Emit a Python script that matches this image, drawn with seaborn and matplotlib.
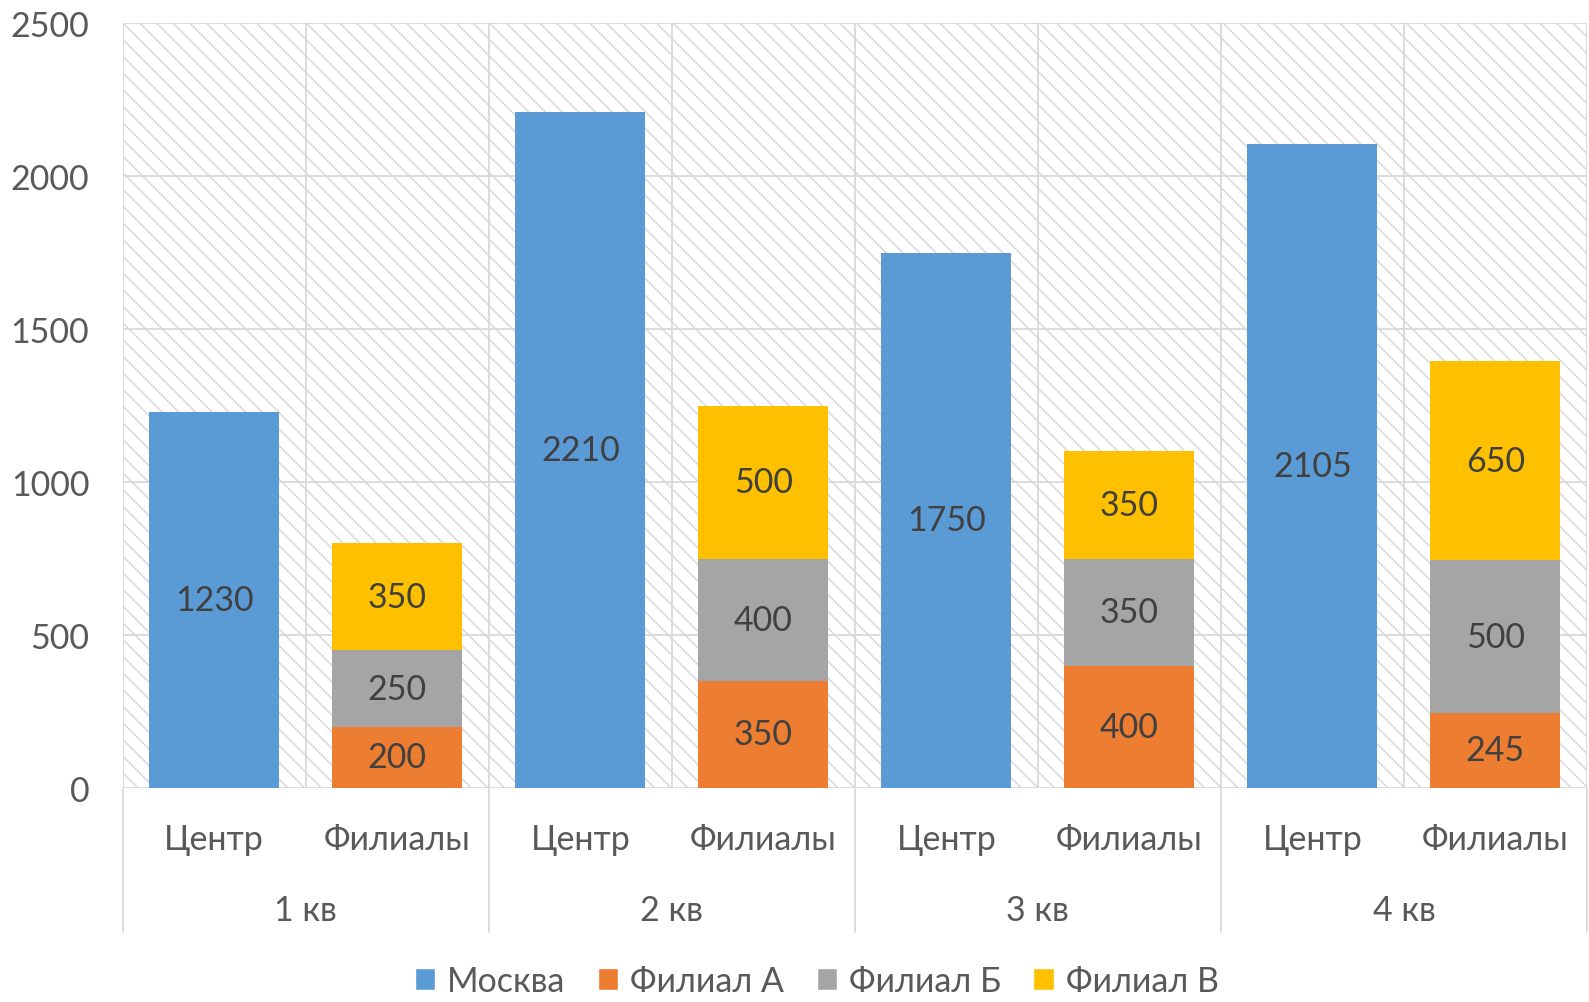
import numpy as np
import matplotlib
matplotlib.use("Agg")
import matplotlib.pyplot as plt
import matplotlib.transforms as mtransforms
from matplotlib.patches import Patch, Rectangle
import seaborn as sns
import pandas as pd

# data
quarters = ["1 кв", "2 кв", "3 кв", "4 кв"]
groups = ["Центр", "Филиалы"]
moscow = [1230, 2210, 1750, 2105]
fil_a = [200, 350, 400, 245]
fil_b = [250, 400, 350, 500]
fil_v = [350, 500, 350, 650]

series_names = ["Москва", "Филиал А", "Филиал Б", "Филиал В"]
colors = ["#5B9BD5", "#ED7D31", "#A5A5A5", "#FFC000"]

# one row per (quarter, group); Москва only in Центр, branches only in Филиалы
cats, vals = [], {s: [] for s in series_names}
for i, q in enumerate(quarters):
    for g in groups:
        cats.append(f"{q}|{g}")
        centre = g == "Центр"
        vals["Москва"].append(moscow[i] if centre else 0)
        vals["Филиал А"].append(0 if centre else fil_a[i])
        vals["Филиал Б"].append(0 if centre else fil_b[i])
        vals["Филиал В"].append(0 if centre else fil_v[i])
df = pd.DataFrame({"cat": cats, **vals})

sns.set_style("white")
plt.rcParams["font.family"] = ["Lato", "DejaVu Sans"]
plt.rcParams["hatch.linewidth"] = 1.0

FS = 24.5
TXT = "#595959"
GRID = "#d9d9d9"

fig = plt.figure(figsize=(15.89, 10.03), dpi=100)
ax = fig.add_axes([0.0772, 0.2134, 0.9215, 0.7624])

# hatched background
ax.add_patch(Rectangle((0, 0), 1, 1, transform=ax.transAxes, facecolor="white",
                       edgecolor="#d6d6d6", hatch="\\\\", lw=0, zorder=0))

bottom = np.zeros(len(df))
for name, col in zip(series_names, colors):
    sns.barplot(data=df, x="cat", y=name, order=cats, color=col, width=0.71,
                saturation=1, bottom=bottom.copy(), linewidth=0, ax=ax, zorder=3)
    bottom += df[name].to_numpy()

for cont, name in zip(ax.containers, series_names):
    labels = [str(v) if v else "" for v in df[name]]
    ax.bar_label(cont, labels=labels, label_type="center", fontsize=FS,
                 color="#404040", zorder=4)

ax.set_ylim(0, 2500)
ax.set_xlim(-0.5, len(cats) - 0.5)
ax.set_yticks(np.arange(0, 2501, 500))
ax.grid(False)
for y in np.arange(0, 2501, 500):
    ax.axhline(y, color=GRID, lw=1.3, zorder=1)
for x in np.arange(-0.5, len(cats)):
    ax.axvline(x, color=GRID, lw=1.3, zorder=1)

ax.set_xticks(range(len(cats)))
ax.set_xticklabels([c.split("|")[1] for c in cats])
ax.set_xlabel("")
ax.set_ylabel("")
ax.tick_params(axis="x", length=0, pad=25, labelsize=FS, labelcolor=TXT)
ax.tick_params(axis="y", length=0, pad=24, labelsize=FS, labelcolor=TXT)
sns.despine(ax=ax, left=True, bottom=True)

# quarter labels and separators
trans = mtransforms.blended_transform_factory(ax.transData, ax.transAxes)
for i, q in enumerate(quarters):
    ax.text(2 * i + 0.5, -0.159, q, transform=trans, ha="center", va="center",
            fontsize=FS, color=TXT)
for x in np.arange(-0.5, len(cats), 2):
    ax.plot([x, x], [0, -0.188], transform=trans, color=GRID, lw=1.3,
            clip_on=False)

handles = [Patch(facecolor=c, label=n) for n, c in zip(series_names, colors)]
fig.legend(handles=handles, loc="center", bbox_to_anchor=(0.514, 0.021),
           ncol=4, frameon=False, fontsize=FS, handlelength=0.6, handleheight=0.6,
           handletextpad=0.35, columnspacing=0.95, labelcolor=TXT,
           borderpad=0, borderaxespad=0)

fig.savefig("out.png", dpi=100)
